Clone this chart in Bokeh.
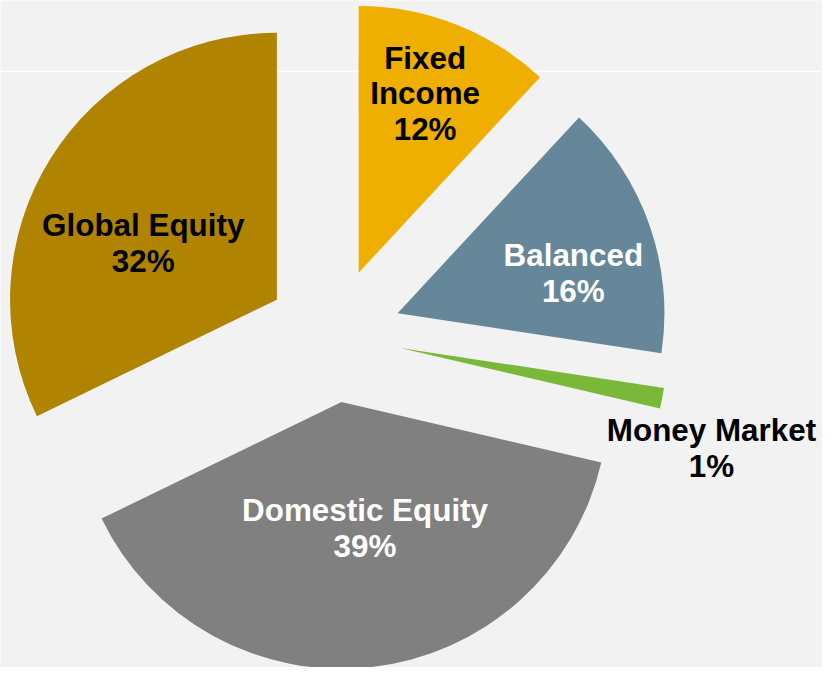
import math
from bokeh.plotting import figure
from bokeh.models import ColumnDataSource, Range1d
from bokeh.embed import file_html
from bokeh.resources import INLINE

# ---- data ----
categories = ["Fixed Income", "Balanced", "Money Market", "Domestic Equity", "Global Equity"]
label_lines = [["Fixed", "Income"], ["Balanced"], ["Money Market"], ["Domestic Equity"], ["Global Equity"]]
shares = [11.9, 15.5, 1.25, 39.15, 32.2]

# ---- style / layout ----
colors = ["#EEAF00", "#66869A", "#7AB83A", "#808080", "#B08300"]
text_colors = ["#000000", "#FFFFFF", "#000000", "#FFFFFF", "#000000"]
label_angle = [20.6, 75.5, 106.8, 170.9, 295.8]   # clockwise from 12 o'clock
label_radius = [264, 252, 402, 200, 216]
W_REF, H = 838, 683
CX, CY = 340.0, H - 342.8
R = 272.0
EXPLODE = 68.7
FIG_W, FIG_H = 822, 667
FS = 32 * FIG_W / W_REF
LINE_H = 36.7

total = sum(shares)
start, end, xs, ys = [], [], [], []
acc = 0.0
for v in shares:
    a0 = acc / total * 360.0
    acc += v
    a1 = acc / total * 360.0
    mid = math.radians((a0 + a1) / 2)
    xs.append(CX + EXPLODE * math.sin(mid))
    ys.append(CY + EXPLODE * math.cos(mid))
    start.append(math.radians(90 - a1))
    end.append(math.radians(90 - a0))

src = ColumnDataSource(dict(x=xs, y=ys, start=start, end=end, color=colors, cat=categories))

p = figure(width=FIG_W, height=FIG_H, output_backend="svg", toolbar_location=None,
           x_range=Range1d(0, W_REF), y_range=Range1d(0, H), min_border=0)
p.axis.visible = False
p.grid.visible = False
p.outline_line_color = None
p.background_fill_color = "#F2F2F2"
p.border_fill_color = "#F2F2F2"

# faint horizontal gridline behind the pie
p.line(x=[0, W_REF], y=[H - 72.5, H - 72.5], line_color="#FFFFFF", line_width=1.2)

p.wedge(x="x", y="y", radius=R, start_angle="start", end_angle="end",
        direction="anticlock", fill_color="color", line_color=None, source=src)

# labels
tx, ty, tt, tc = [], [], [], []
for i, v in enumerate(shares):
    lines = label_lines[i] + [f"{v:.0f}%"]
    phi = math.radians(label_angle[i])
    bx = CX + label_radius[i] * math.sin(phi)
    by = CY + label_radius[i] * math.cos(phi)
    n = len(lines)
    for j, s in enumerate(lines):
        tx.append(bx)
        ty.append(by - (j - (n - 1) / 2) * LINE_H)
        tt.append(s)
        tc.append(text_colors[i])

tsrc = ColumnDataSource(dict(x=tx, y=ty, text=tt, color=tc))
p.text(x="x", y="y", text="text", text_color="color", source=tsrc,
       text_align="center", text_baseline="middle",
       text_font_size=f"{FS:.1f}px", text_font_style="bold",
       text_font={"value": "Liberation Sans"})

open("out.html", "w").write(file_html(p, INLINE))
